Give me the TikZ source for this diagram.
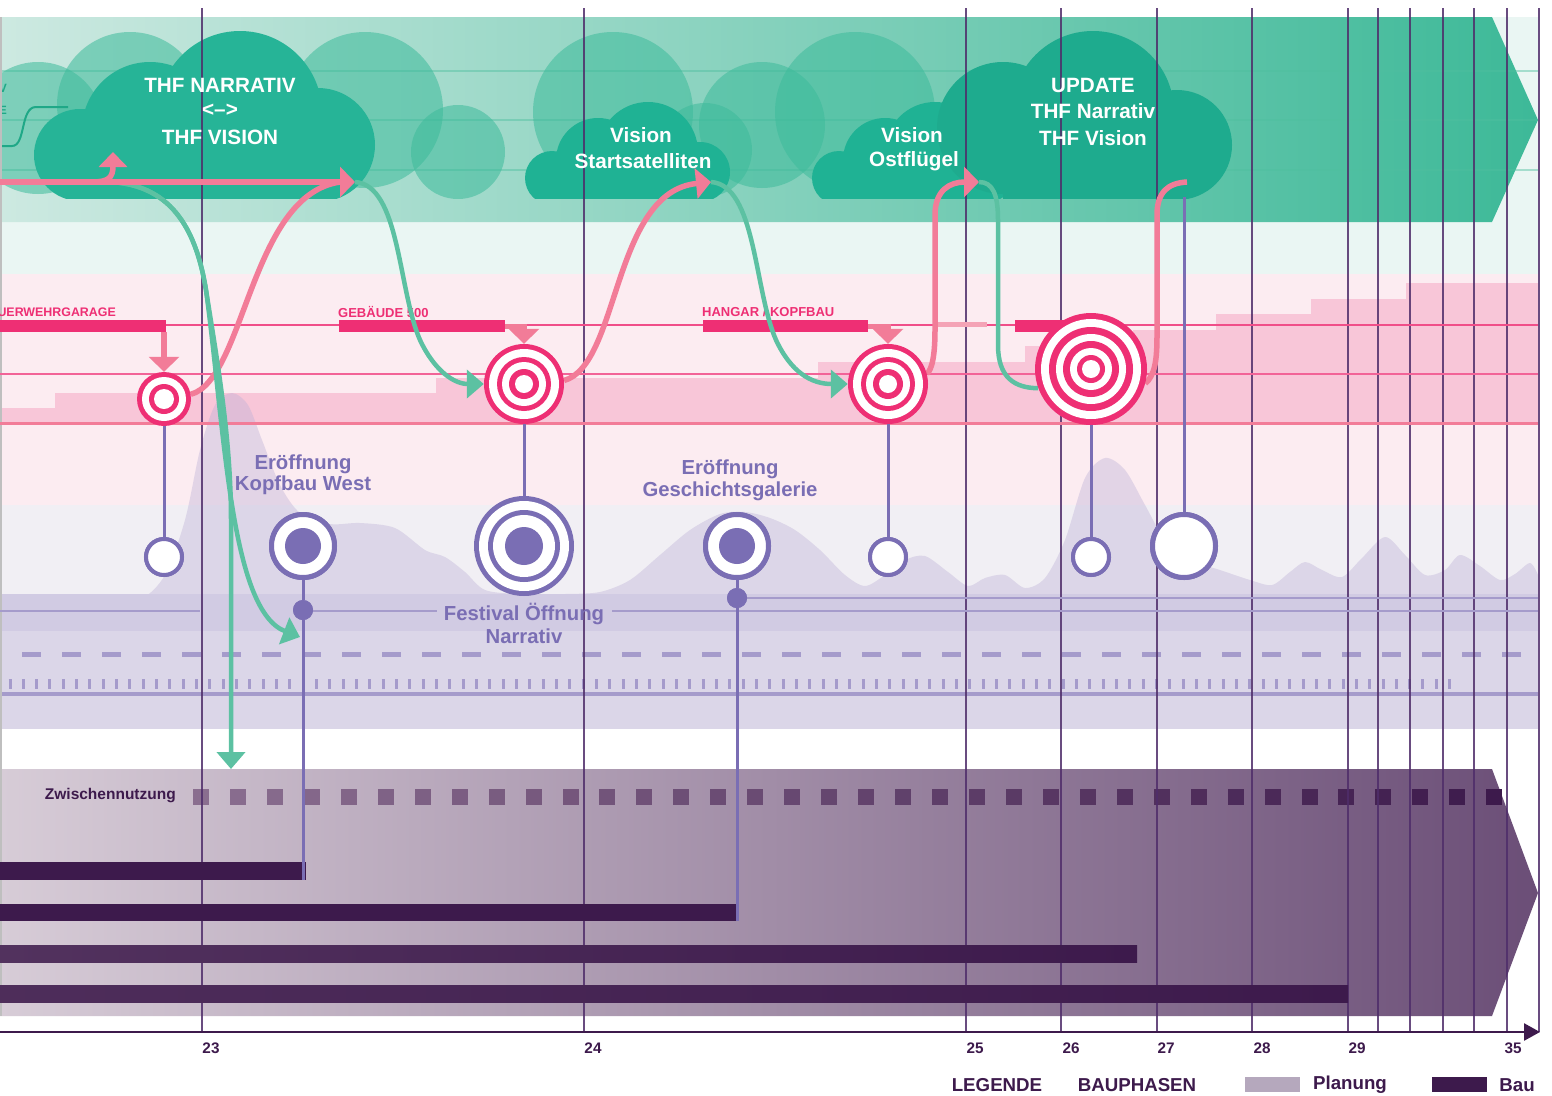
\documentclass[tikz,border=0pt]{standalone}
\usepackage{fontspec}
\setmainfont{Liberation Sans}
\usetikzlibrary{arrows.meta}
\definecolor{mag}{HTML}{EE2F74}
\definecolor{pinkarr}{HTML}{F27C98}
\definecolor{pinklite}{HTML}{F4A3B6}
\definecolor{grn}{HTML}{5CC1A2}
\definecolor{prp}{HTML}{7A6EB4}
\definecolor{drk}{HTML}{3D1A4C}
\definecolor{vln}{HTML}{4F2D6A}
\definecolor{mint}{HTML}{EAF6F3}
\definecolor{pinkbg}{HTML}{FCECF1}
\definecolor{pinkstep}{HTML}{F8C6D8}
\definecolor{greybg}{HTML}{F1EFF4}
\definecolor{lav1}{HTML}{D1CBE3}
\definecolor{lav2}{HTML}{DBD6E8}
\definecolor{lavline}{HTML}{A59BCB}
\definecolor{mount}{HTML}{BDB1D6}
\definecolor{cloudF}{HTML}{1FB294}
\definecolor{cloudB}{HTML}{3DBB9B}
\definecolor{bandGL}{HTML}{CDE9E1}
\definecolor{bandGR}{HTML}{3DB998}
\definecolor{bandL}{HTML}{D7CCD7}
\definecolor{bandR}{HTML}{6B4E77}
\definecolor{sqA}{HTML}{8A6E8F}
\definecolor{barL}{HTML}{52325E}
\definecolor{plan}{HTML}{B5A8BD}
\definecolor{glines}{HTML}{4FBF9F}
\definecolor{smallg}{HTML}{1FA887}

\newcommand\ringfill[3]{\foreach \r [count=\k] in {#3} {\ifodd\k\relax \fill[#2] (#1) circle (\r);\else \fill[white] (#1) circle (\r);\fi}}

\tikzset{
 cw/.style={text=white, font=\fontsize{20.7}{24}\selectfont\bfseries, inner sep=0},
 lblP/.style={text=prp, font=\fontsize{20.3}{23}\selectfont\bfseries, inner sep=0},
 lblM/.style={text=mag, font=\fontsize{13}{15}\selectfont\bfseries, inner sep=0},
 ticklbl/.style={text=drk, font=\fontsize{15.3}{18}\selectfont\bfseries, inner sep=0},
 legtxt/.style={text=drk, font=\fontsize{18.7}{21}\selectfont\bfseries, inner sep=0},
 pkline/.style={draw=pinkarr, line width=5.5},
 grline/.style={draw=grn, line width=4.5},
 pconn/.style={draw=prp, line width=3},
 pdot/.style={circle, fill=prp, inner sep=0, minimum size=20pt},
 ringP/.style={circle, draw=prp, line width=5, fill=white, inner sep=0},
 ringS/.style={circle, draw=prp, line width=4, fill=white, inner sep=0, minimum size=36pt},
 hub/.style={circle, inner sep=0},
 barM/.style={fill=mag, inner sep=0, minimum height=12pt},
 pkhead/.style={-{Triangle[length=15pt,width=30pt]}},
 grhead/.style={-{Triangle[length=17pt,width=28pt]}},
}

\begin{document}
\begin{tikzpicture}[x=1pt,y=-1pt,font=\bfseries]
\useasboundingbox (0,0) rectangle (1552,1095);
\clip (0,0) rectangle (1552,1095);
\fill[white] (0,0) rectangle (1552,1095);

% ---------- top green zone
\fill[mint] (0,17) rectangle (1538,274);
\shade[left color=bandGL, right color=bandGR] (0,17) -- (1492,17) -- (1538,120) -- (1492,222) -- (0,222) -- cycle;
\foreach \yy in {71,120,170} \draw[glines, opacity=.45, line width=1.5] (0,\yy) -- (1538,\yy);

\begin{scope}
\clip (-10,0) rectangle (1560,198);
% background clouds
\foreach \cx/\cy/\cr in {38/128/66, 130/105/73, 365/110/78, 458/152/47, 613/112/80, 705/150/47, 762/125/63, 855/112/80}
  \fill[cloudB, opacity=.55] (\cx,\cy) circle (\cr);
% front clouds (circles, then base rectangle as separate paths)
\fill[cloudF!97!white] (80,155) circle (46) (150,130) circle (68) (240,113) circle (82) (318,145) circle (57);
\fill[cloudF!97!white] (80,150) rectangle (318,200);
\fill[cloudF] (552,178) circle (27) (598,160) circle (42) (648,152) circle (50) (700,172) circle (30);
\fill[cloudF] (552,170) rectangle (700,200);
\fill[cloudF] (839,178) circle (27) (885,160) circle (42) (935,152) circle (50) (987,172) circle (30);
\fill[cloudF] (839,170) rectangle (987,200);
\fill[cloudF!96!black] (1003,128) circle (66) (1093,112) circle (81) (1177,145) circle (55);
\fill[cloudF!96!black] (1003,140) rectangle (1177,200);
\end{scope}
\draw[smallg, line width=2] (0,146) -- (12,146) .. controls (26,146) and (20,107) .. (36,107) -- (68,107);
\node[text=smallg, font=\fontsize{12}{14}\selectfont\bfseries, anchor=east, inner sep=0] (tv) at (7,88) {V};
\node[text=smallg, font=\fontsize{12}{14}\selectfont\bfseries, anchor=east, inner sep=0] (te) at (7,110) {E};

% ---------- pink zone
\fill[pinkbg] (0,274) rectangle (1538,505);
\fill[pinkstep] (0,423) -- (0,408) -- (55,408) -- (55,393) -- (436,393) -- (436,378) -- (818,378) -- (818,362) -- (1025,362) -- (1025,346) -- (1133,346) -- (1133,330) -- (1216,330) -- (1216,314) -- (1311,314) -- (1311,299) -- (1406,299) -- (1406,283) -- (1538,283) -- (1538,423) -- cycle;

% ---------- lavender zone
\fill[greybg] (0,505) rectangle (1538,594);
\fill[mount, opacity=.4] (0,620) -- plot[smooth, tension=.5] coordinates {(0,610) (100,609) (140,600) (165,575) (185,520) (200,450) (215,405) (232,393) (248,405) (262,440) (280,485) (300,513) (330,524) (360,523) (395,528) (425,550) (445,557) (465,572) (485,590) (520,594) (565,594) (600,592) (630,580) (660,555) (690,530) (720,514) (745,512) (770,518) (795,530) (820,550) (845,575) (865,586) (885,575) (905,560) (925,556) (948,572) (968,586) (985,578) (1005,575) (1025,588) (1045,578) (1065,540) (1085,478) (1105,458) (1125,470) (1145,505) (1165,540) (1190,560) (1220,570) (1250,580) (1272,585) (1290,572) (1305,562) (1322,570) (1342,577) (1362,558) (1385,537) (1405,555) (1425,575) (1445,570) (1460,555) (1480,566) (1500,580) (1515,574) (1530,563) (1538,575)} -- (1538,620) -- cycle;
\fill[lav1] (0,594) rectangle (1538,631);
\fill[lav2] (0,631) rectangle (1538,729);
\draw[lavline, line width=5, dash pattern=on 19pt off 21pt] (22,654) -- (1525,654);
\draw[lavline, line width=10, dash pattern=on 3pt off 10.33pt] (8.5,684) -- (1452,684);
\draw[lavline, line width=4] (0,694) -- (1538,694);

% ---------- bottom purple band
\shade[left color=bandL, right color=bandR] (0,769) -- (1492,769) -- (1538,893) -- (1492,1016) -- (0,1016) -- cycle;
\foreach \i in {0,...,35} {\pgfmathtruncatemacro\pp{100*\i/35}
  \fill[drk!\pp!sqA] ({193+36.95*\i},789) rectangle ({209+36.95*\i},805);}
\node[text=drk, font=\fontsize{15.5}{18}\selectfont\bfseries, anchor=east, inner sep=0] (zw) at (176,796) {Zwischennutzung};

% ---------- vertical grid lines
\draw[gray!50, line width=1.5] (1,17) -- (1,1016);
\foreach \xx in {202,584,966,1061,1157,1252,1348,1378,1410,1443,1474,1507,1539}
  \draw[vln, opacity=.85, line width=1.3] (\xx,8) -- (\xx,1032);

% pink horizontal lines
\draw[mag!85!white, line width=1.3] (0,325) -- (1538,325);
\draw[mag!75!white, line width=1.5] (0,374) -- (1538,374);
\draw[pinkarr, line width=2.5] (0,423.5) -- (1538,423.5);

% lavender horizontals
\draw[lavline, line width=2] (0,611) -- (200,611);
\draw[lavline, line width=2] (303,611) -- (437,611);
\draw[lavline, line width=2] (612,611) -- (1538,611);
\draw[lavline, line width=2] (737,598) -- (1538,598);

% bars
\node[fill=drk, inner sep=0, minimum width=306pt, minimum height=18pt, anchor=west] (bar1) at (0,871) {};
\node[fill=drk, inner sep=0, minimum width=737pt, minimum height=17pt, anchor=west] (bar2) at (0,912.5) {};
\shade[left color=barL, right color=drk] (0,945) rectangle (1137,962);
\shade[left color=barL!80!drk, right color=drk] (0,985) rectangle (1348,1002);
\coordinate (bar1end) at (303,880);
\coordinate (bar2end) at (737,921);

% axis
\coordinate (ax0) at (0,1032);
\coordinate (ax1) at (1540,1032);
\draw[drk, line width=2.5, -{Triangle[length=16pt,width=17pt]}] (ax0) -- (ax1);
\foreach \xx/\lb in {211/23, 593/24, 975/25, 1071/26, 1166/27, 1262/28, 1357/29, 1513/35}
  \node[ticklbl] (tk\lb) at (\xx,1048) {\lb};

% legend
\node[legtxt] (lg1) at (997,1085) {LEGENDE};
\node[legtxt] (lg2) at (1137,1085) {BAUPHASEN};
\fill[plan] (1245,1077) rectangle (1300,1092);
\node[legtxt] (lg3) at (1350,1085) {Planung};
\fill[drk] (1432,1077) rectangle (1487,1092);
\node[legtxt] (lg4) at (1517,1085) {Bau};

% ---------- nodes (hubs)
\node[hub, minimum size=54pt] (t1) at (164,399) {};
\node[hub, minimum size=80pt] (t2) at (524,384) {};
\node[hub, minimum size=80pt] (t3) at (888,384) {};
\node[hub, minimum size=112pt] (t4) at (1091,369) {};
\coordinate (a0) at (0,182);
\coordinate (a1) at (355,182);
\coordinate (a2) at (711,182);
\coordinate (a3) at (979,182);
\coordinate (a4) at (1187,182);
\coordinate (upt) at (113,152);
\coordinate (g1end) at (231,769);
\coordinate (g1b) at (300,637);
\coordinate (c5top) at (1184,197);

% magenta building bars
\node[barM, minimum width=180pt] (b1) at (76,326) {};
\node[barM, minimum width=166pt] (b2) at (422,326) {};
\node[barM, minimum width=165pt] (b3) at (785.5,326) {};
\node[barM, minimum width=50pt] (b4) at (1040,326) {};
\draw[pinklite, line width=5] (936,324) -- (987,324);
\node[lblM, anchor=east, font=\fontsize{12.4}{15}\selectfont\bfseries] (l1) at (116,312) {FEUERWEHRGARAGE};
\node[lblM, anchor=west] (l2) at (338,312) {GEBÄUDE 500};
\node[lblM, anchor=west] (l3) at (702,312) {HANGAR / KOPFBAU};
\draw[pinkarr, line width=6.5, pkhead] (t1.north |- b1.south) -- (t1.north);
\draw[pinkarr, line width=5, pkhead] (b2.east) -| (t2.north);
\draw[pinkarr, line width=5, pkhead] (b3.east) -| (t3.north);

% ---------- curves
\draw[pkline] (t1.10) .. controls (245,380) and (250,195) .. (340,182);
\draw[grline, grhead] (110,182) .. controls (175,185) and (197,235) .. (206,290) .. controls (218,365) and (231,440) .. (231,520) -- (g1end);
\draw[grline, grhead] (110,182) .. controls (175,185) and (197,235) .. (206,290) .. controls (225,430) and (230,610) .. (g1b);
\draw[grline, grhead] (a1) .. controls (400,185) and (398,290) .. (420,340) .. controls (435,372) and (455,384) .. (t2.west);
\draw[grline, grhead] (a2) .. controls (756,185) and (754,290) .. (776,340) .. controls (791,372) and (811,384) .. (t3.west);
\draw[grline] (a3) .. controls (993,182) and (998,195) .. (998,220) -- (998,345) .. controls (998,378) and (1015,388) .. (t4.200);
\draw[pkline, pkhead] (a0) -- (a1);
\draw[pkline, -{Triangle[length=15pt,width=28pt]}] (92,182) .. controls (108,182) and (113,178) .. (upt);
\draw[pkline, pkhead] (t2.5) .. controls (620,365) and (612,192) .. (a2);
\draw[pkline, pkhead] (t3.15) .. controls (932,370) and (935,355) .. (935,330) -- (935,215) .. controls (935,190) and (950,182) .. (a3);
\draw[pkline] (t4.-15) .. controls (1155,375) and (1157,360) .. (1157,335) -- (1157,215) .. controls (1157,192) and (1168,183) .. (a4);

% ---------- magenta targets
\ringfill{t1}{mag}{27,22,15,10}
\ringfill{t2}{mag}{40,35,27,22,15,9}
\ringfill{t3}{mag}{40,35,27,22,15,9}
\ringfill{t4}{mag}{56,50,42,35,28,21,14,9}

% ---------- purple nodes
\node[ringS] (c1) at (164,557) {};
\node[ringS] (c3) at (888,557) {};
\node[ringS] (c4) at (1091,557) {};
\node[ringP, minimum size=63pt] (c5) at (1184,546) {};
\node[ringP, minimum size=63pt] (pk) at (303,546) {};
\node[ringP, minimum size=63pt] (pg) at (737,546) {};
\node[hub, minimum size=100pt] (pt) at (524,546) {};
\node[pdot] (dk) at (303,610) {};
\node[pdot] (dg) at (737,598) {};

\draw[pconn] (t1.south) -- (c1.north);
\draw[pconn] (t2.south) -- (pt.north);
\draw[pconn] (t3.south) -- (c3.north);
\draw[pconn] (t4.south) -- (c4.north);
\draw[pconn] (c5top) -- (c5.north);
\draw[pconn] (pk.south) -- (dk.north);
\draw[pconn] (dk.south) -- (bar1end);
\draw[pconn] (pg.south) -- (dg.north);
\draw[pconn] (dg.south) -- (bar2end);

\node[ringS] at (c1) {};
\node[ringS] at (c3) {};
\node[ringS] at (c4) {};
\node[ringP, minimum size=63pt] at (c5) {};
\node[ringP, minimum size=63pt] at (pk) {};
\node[ringP, minimum size=63pt] at (pg) {};
\fill[prp] (pk) circle (18);
\fill[prp] (pg) circle (18);
\ringfill{pt}{prp}{50,45,36,31,19}
\node[pdot] at (dk) {};
\node[pdot] at (dg) {};

% ---------- texts
\node[cw] (n1) at (220,85) {THF NARRATIV};
\node[cw] (n2) at (220,110) {<–>};
\node[cw] (n3) at (220,137) {THF VISION};
\node[cw] (v1) at (641,135) {Vision};
\node[cw] (v2) at (643,161) {Startsatelliten};
\node[cw] (o1) at (912,135) {Vision};
\node[cw] (o2) at (914,161) {Ostflügel};
\node[cw] (u1) at (1093,85) {UPDATE};
\node[cw] (u2) at (1093,111) {THF Narrativ};
\node[cw] (u3) at (1093,138) {THF Vision};
\node[lblP] (k1) at (303,464) {Eröffnung};
\node[lblP] (k2) at (303,485) {Kopfbau West};
\node[lblP] (g1) at (730,469) {Eröffnung};
\node[lblP] (g2) at (730,491) {Geschichtsgalerie};
\node[lblP] (f1) at (524,614) {Festival Öffnung};
\node[lblP] (f2) at (524,636) {Narrativ};
\end{tikzpicture}
\end{document}
